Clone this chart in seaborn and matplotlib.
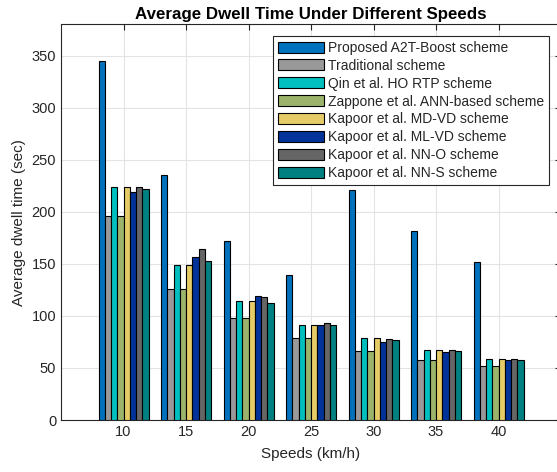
import numpy as np
import pandas as pd
import matplotlib
matplotlib.use('Agg')
import matplotlib.pyplot as plt
import seaborn as sns

# Dados
speeds = [10, 15, 20, 25, 30, 35, 40]
schemes = ['Proposed A2T-Boost scheme', 'Traditional scheme', 'Qin et al. HO RTP scheme',
           'Zappone et al. ANN-based scheme', 'Kapoor et al. MD-VD scheme',
           'Kapoor et al. ML-VD scheme', 'Kapoor et al. NN-O scheme', 'Kapoor et al. NN-S scheme']

proposed = [345, 235, 172, 139, 221, 182, 152]
traditional = [196, 126, 98, 79, 66, 58, 52]
qin = [224, 149, 114, 91, 78.5, 67, 59]
zappone = [196, 126, 98, 79, 66, 58, 52]
md_vd = [224, 149, 114, 91, 78.5, 67, 59]
ml_vd = [219.5, 156.5, 119, 91.3, 75, 65.4, 57.7]
nn_o = [224, 164.5, 118.6, 93, 77.6, 67, 59]
nn_s = [222, 153, 112, 91.7, 76.6, 66, 57.7]

series = [proposed, traditional, qin, zappone, md_vd, ml_vd, nn_o, nn_s]
colors = ['#0072BD', '#999999', '#00BFBF', '#9BB36B', '#E6CC66', '#003399', '#666666', '#008080']

df = pd.DataFrame({
    'Speed': np.tile(speeds, len(schemes)),
    'Scheme': np.repeat(schemes, len(speeds)),
    'Value': np.concatenate(series),
})

sns.set_style('white')
plt.rcParams['font.family'] = ['Liberation Sans', 'DejaVu Sans']
plt.rcParams['font.size'] = 10

fig = plt.figure(figsize=(5.57, 4.72), dpi=100)
ax = fig.add_axes([61 / 557, 52 / 472, 500 / 557, 395.5 / 472])

sns.barplot(data=df, x='Speed', y='Value', hue='Scheme', hue_order=schemes,
            palette=colors, saturation=1, width=0.8, gap=0, errorbar=None,
            edgecolor='black', linewidth=0.8, ax=ax, zorder=3)

ax.set_xlim(-1, 7)
ax.set_ylim(0, 380)
ax.set_yticks(np.arange(0, 351, 50))
ax.set_xticks(range(len(speeds)))
ax.set_xticklabels([str(s) for s in speeds])

ax.grid(True, color='#e3e3e3', linewidth=0.8, zorder=0)
ax.set_axisbelow(True)
for sp in ax.spines.values():
    sp.set_color('#262626')
    sp.set_linewidth(0.8)
    sp.set_visible(True)
ax.tick_params(direction='in', top=True, right=True, length=4, width=0.8,
               colors='#262626', labelsize=10.5, labelcolor='#262626')

ax.set_xlabel('Speeds (km/h)', fontsize=11, color='#262626', labelpad=6)
ax.set_ylabel('Average dwell time (sec)', fontsize=11, color='#262626')
ax.set_title('Average Dwell Time Under Different Speeds', fontsize=12.2, fontweight='bold',
             color='black', pad=4)

leg = ax.legend(loc='upper left', bbox_to_anchor=(273 / 557, 1 - 36 / 472),
                bbox_transform=fig.transFigure, fontsize=10, frameon=True, fancybox=False,
                handlelength=3.3, handleheight=0.85, handletextpad=0.3, labelspacing=0.28,
                borderpad=0.35, borderaxespad=0)
leg.get_frame().set_edgecolor('#262626')
leg.get_frame().set_linewidth(0.8)
leg.get_frame().set_alpha(1)

fig.savefig('out.png', dpi=100)
